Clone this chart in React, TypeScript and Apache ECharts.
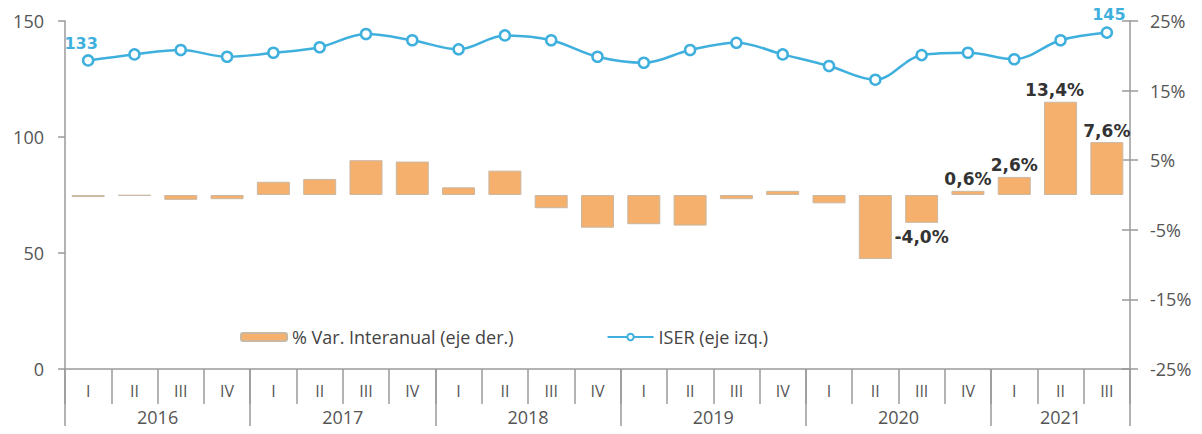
import React, { useEffect, useRef } from "react";
import * as echarts from "echarts";

const quarters = ["I","II","III","IV","I","II","III","IV","I","II","III","IV","I","II","III","IV","I","II","III","IV","I","II","III"];
const years = ["2016","2017","2018","2019","2020","2021"];
const iser = [133, 135.6, 137.5, 134.6, 136.3, 138.7, 144.4, 141.7, 137.8, 143.8, 141.7, 134.6, 132.0, 137.5, 140.6, 135.6, 130.6, 124.7, 135.3, 136.3, 133.5, 141.7, 145];
const varInter = [-0.3, -0.1, -0.7, -0.6, 1.9, 2.3, 5.0, 4.8, 1.1, 3.5, -1.9, -4.7, -4.2, -4.4, -0.6, 0.6, -1.2, -9.2, -4.0, 0.6, 2.6, 13.4, 7.6];
const leftTicks = { min: 0, max: 150, interval: 50 };
const rightTicks = { min: -25, max: 25, interval: 10 };
const yearTickPos = [0, 4, 8, 12, 16, 20, 23];
const yearLabelPos = [2, 6, 10, 14, 18, 21.5];
const labelledBars = [18, 19, 20, 21, 22];
const labelledPoints = [0, 22];

const FONT = "Open Sans";
const BOLD_FONT = "DejaVu Sans";
const GREY = "#9a9a9a";
const TXT = "#555555";

export default function App() {
  const ref = useRef<HTMLDivElement>(null);
  useEffect(() => {
    const chart = echarts.init(ref.current!, null, { renderer: "svg" });
    const fmtPct = (v: number) => v.toFixed(1).replace(".", ",") + "%";
    chart.setOption({
      animation: false,
      textStyle: { fontFamily: FONT },
      legend: {
        left: 235,
        top: 323,
        itemWidth: 46,
        itemHeight: 8,
        itemGap: 93,
        textStyle: { fontFamily: FONT, fontSize: 18, color: "#444" },
        data: ["% Var. Interanual (eje der.)", "ISER (eje izq.)"],
      },
      grid: { left: 65, right: 72, top: 21, bottom: 65 },
      xAxis: [
        {
          type: "category",
          data: quarters,
          boundaryGap: true,
          axisLine: { onZero: false, lineStyle: { color: GREY, width: 1.5 } },
          axisTick: { show: true, interval: 0, length: 35, lineStyle: { color: GREY, width: 1.5 } },
          axisLabel: { interval: 0, margin: 14, fontSize: 16, color: TXT, fontFamily: FONT },
        },
        {
          type: "value",
          min: 0,
          max: 23,
          position: "bottom",
          axisLine: { show: false, onZero: false },
          splitLine: { show: false },
          axisTick: { show: true, customValues: yearTickPos, length: 66, lineStyle: { color: GREY, width: 1.5 } },
          axisLabel: {
            customValues: yearLabelPos,
            margin: 39,
            fontSize: 18,
            color: TXT,
            fontFamily: FONT,
            formatter: (v: number) => years[Math.floor(v / 4)],
          },
        },
      ],
      yAxis: [
        {
          type: "value",
          position: "left",
          ...leftTicks,
          splitLine: { show: false },
          axisLine: { show: true, onZero: false, lineStyle: { color: GREY, width: 1.5 } },
          axisTick: { show: true, length: 7, lineStyle: { color: GREY, width: 1.5 } },
          axisLabel: { margin: 21, fontSize: 18, color: TXT, fontFamily: FONT },
        },
        {
          type: "value",
          position: "right",
          ...rightTicks,
          splitLine: { show: false },
          axisLine: { show: true, onZero: false, lineStyle: { color: GREY, width: 1.5 } },
          axisTick: { show: true, length: 8, lineStyle: { color: GREY, width: 1.5 } },
          axisLabel: { margin: 20, fontSize: 18, color: TXT, fontFamily: FONT, formatter: (v: number) => v + "%" },
        },
        {
          type: "value",
          position: "right",
          ...rightTicks,
          splitLine: { show: false },
          axisLine: { show: false, onZero: false },
          axisTick: { show: true, inside: true, length: 8, lineStyle: { color: GREY, width: 1.5 } },
          axisLabel: { show: false },
        },
      ],
      series: [
        {
          name: "% Var. Interanual (eje der.)",
          type: "bar",
          yAxisIndex: 1,
          barWidth: 33,
          itemStyle: { color: "#F4B06C", borderColor: "#c9b8a4", borderWidth: 1 },
          data: varInter.map((v, i) =>
            labelledBars.includes(i)
              ? {
                  value: v,
                  label: {
                    show: true,
                    position: v < 0 ? "bottom" : "top",
                    distance: v < 0 ? 6 : 3,
                    offset: i === 21 ? [-6, 0] : [0, 0],
                    formatter: (p: any) => fmtPct(p.value),
                    fontFamily: BOLD_FONT,
                    fontWeight: "bold",
                    fontSize: 17,
                    color: "#333",
                  },
                }
              : v
          ),
        },
        {
          name: "ISER (eje izq.)",
          type: "line",
          yAxisIndex: 0,
          smooth: 0.35,
          symbol: "circle",
          symbolSize: 10,
          lineStyle: { color: "#3FB0DE", width: 2.5 },
          itemStyle: { color: "#ffffff", borderColor: "#3FB0DE", borderWidth: 2.5 },
          data: iser.map((v, i) =>
            labelledPoints.includes(i)
              ? {
                  value: v,
                  label: {
                    show: true,
                    position: "top",
                    distance: i === 0 ? 3 : 4,
                    offset: i === 0 ? [-7, 0] : [2, 0],
                    formatter: (p: any) => String(Math.round(p.value)),
                    fontFamily: BOLD_FONT,
                    fontWeight: "bold",
                    fontSize: 16,
                    color: "#3FB0DE",
                  },
                }
              : v
          ),
        },
      ],
    });
    return () => chart.dispose();
  }, []);
  return <div ref={ref} style={{ width: 1202, height: 434, margin: -8 }} />;
}
